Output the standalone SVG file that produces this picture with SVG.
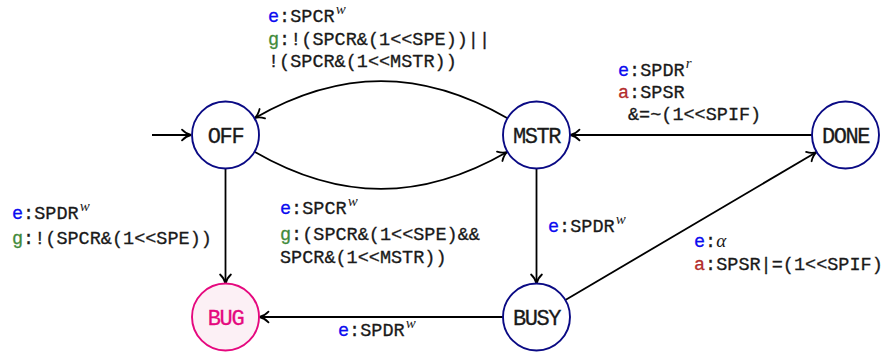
<svg xmlns="http://www.w3.org/2000/svg" width="887" height="356" viewBox="0 0 887 356">
  <style>
    .state { fill: #ffffff; stroke: #0a0a84; stroke-width: 1.9; }
    .state-bug { fill: #fcf0f5; stroke: #e5087e; stroke-width: 1.9; }
    .name { font-family: "Liberation Mono", "DejaVu Sans Mono", monospace; font-size: 22px; letter-spacing: -1.4px; fill: #1a1a1a; stroke: #1a1a1a; stroke-width: 0.3; text-anchor: middle; }
    .name-bug { fill: #e5087e; stroke: #e5087e; }
    .edge { fill: none; stroke: #000000; stroke-width: 1.8; marker-end: url(#arrow); }
    .lbl { font-family: "Liberation Mono", "DejaVu Sans Mono", monospace; font-size: 18.5px; fill: #1a1a1a; stroke: #1a1a1a; stroke-width: 0.3; }
    .ev { fill: #0b0bf0; stroke: #0b0bf0; }
    .gd { fill: #3f8a3a; stroke: #3f8a3a; }
    .ac { fill: #b32b2b; stroke: #b32b2b; }
    .sup { font-family: "Liberation Serif", "DejaVu Serif", serif; font-style: italic; font-size: 15px; stroke-width: 0; }
    .math { font-family: "Liberation Serif", "DejaVu Serif", serif; font-style: italic; font-size: 19px; stroke-width: 0; }
  </style>
  <defs>
    <marker id="arrow" markerUnits="userSpaceOnUse" viewBox="-11 -7 13 14" refX="0" refY="0" markerWidth="13" markerHeight="14" orient="auto">
      <path d="M-9,-5.4 C-5.6,-1.8 -2,-0.35 0,0 C-2,0.35 -5.6,1.8 -9,5.4" fill="none" stroke="#000000" stroke-width="1.8" stroke-linecap="round"/>
    </marker>
  </defs>

  <!-- transitions -->
  <g id="connectors">
    <path class="edge" d="M152,135 L191,135"/>
    <path class="edge" d="M507.5,118.2 C421.8,68.7 340.2,68.7 254.5,118.2"/>
    <path class="edge" d="M254.5,151.8 C340.2,201.3 421.8,201.3 507.5,151.8"/>
    <path class="edge" d="M225.5,168.5 L225.5,283.5"/>
    <path class="edge" d="M536.5,168.5 L536.5,283.5"/>
    <path class="edge" d="M503,317 L259.5,317"/>
    <path class="edge" d="M565.4,300 L816.6,152"/>
    <path class="edge" d="M812,135 L570.5,135"/>
  </g>

  <!-- states -->
  <g id="OFF">
    <circle class="state" cx="225.5" cy="135" r="33.5"/>
    <text class="name" x="225.5" y="143">OFF</text>
  </g>
  <g id="MSTR">
    <circle class="state" cx="536.5" cy="135" r="33.5"/>
    <text class="name" x="536.5" y="143">MSTR</text>
  </g>
  <g id="DONE">
    <circle class="state" cx="845.5" cy="135" r="33.5"/>
    <text class="name" x="845.5" y="143">DONE</text>
  </g>
  <g id="BUG">
    <circle class="state-bug" cx="225.5" cy="317" r="33.5"/>
    <text class="name name-bug" x="225.5" y="325">BUG</text>
  </g>
  <g id="BUSY">
    <circle class="state" cx="536.5" cy="317" r="33.5"/>
    <text class="name" x="536.5" y="325">BUSY</text>
  </g>

  <!-- transition labels -->
  <g id="labels">
    <text class="lbl" x="268" y="22"><tspan class="ev">e</tspan>:SPCR<tspan class="sup" dx="1" dy="-8">w</tspan></text>
    <text class="lbl" x="268" y="45"><tspan class="gd">g</tspan>:!(SPCR&amp;(1&lt;&lt;SPE))||</text>
    <text class="lbl" x="268" y="67">!(SPCR&amp;(1&lt;&lt;MSTR))</text>

    <text class="lbl" x="12" y="219"><tspan class="ev">e</tspan>:SPDR<tspan class="sup" dx="1" dy="-8">w</tspan></text>
    <text class="lbl" x="12" y="244"><tspan class="gd">g</tspan>:!(SPCR&amp;(1&lt;&lt;SPE))</text>

    <text class="lbl" x="280" y="214"><tspan class="ev">e</tspan>:SPCR<tspan class="sup" dx="1" dy="-8">w</tspan></text>
    <text class="lbl" x="280" y="240"><tspan class="gd">g</tspan>:(SPCR&amp;(1&lt;&lt;SPE)&amp;&amp;</text>
    <text class="lbl" x="280" y="263">SPCR&amp;(1&lt;&lt;MSTR))</text>

    <text class="lbl" x="548" y="232"><tspan class="ev">e</tspan>:SPDR<tspan class="sup" dx="1" dy="-8">w</tspan></text>

    <text class="lbl" x="338" y="336"><tspan class="ev">e</tspan>:SPDR<tspan class="sup" dx="1" dy="-8">w</tspan></text>

    <text class="lbl" x="618" y="76"><tspan class="ev">e</tspan>:SPDR<tspan class="sup" dx="1" dy="-8">r</tspan></text>
    <text class="lbl" x="618" y="98"><tspan class="ac">a</tspan>:SPSR</text>
    <text class="lbl" x="628" y="120">&amp;=~(1&lt;&lt;SPIF)</text>

    <text class="lbl" x="694" y="247"><tspan class="ev">e</tspan>:<tspan class="math">α</tspan></text>
    <text class="lbl" x="694" y="270"><tspan class="ac">a</tspan>:SPSR|=(1&lt;&lt;SPIF)</text>
  </g>
</svg>
